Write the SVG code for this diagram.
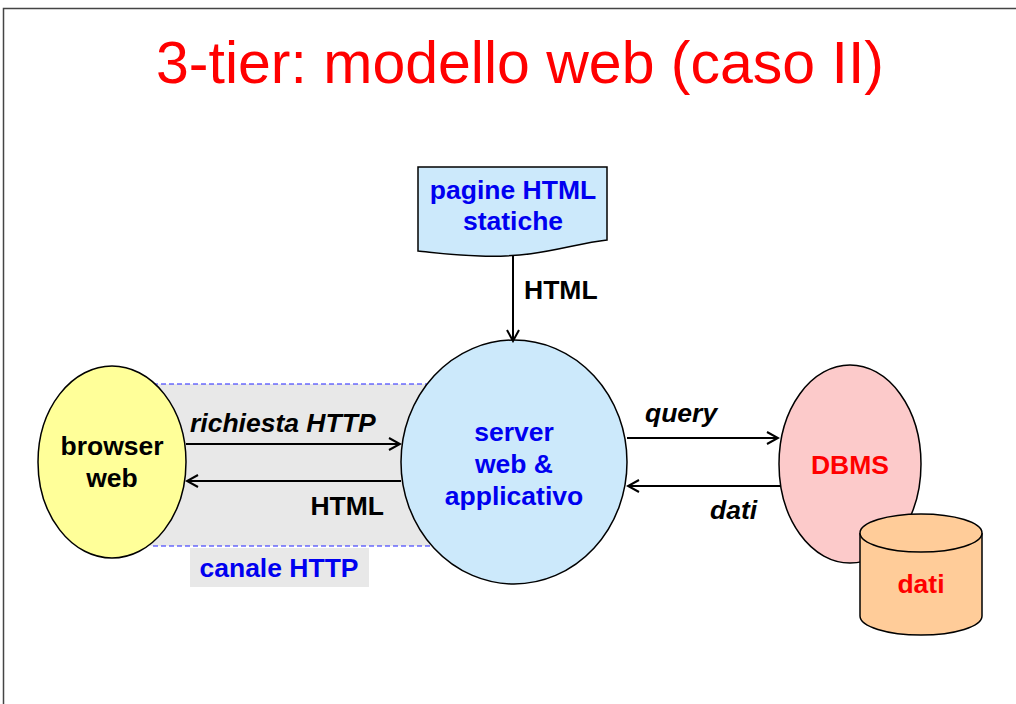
<svg xmlns="http://www.w3.org/2000/svg" width="1016" height="704" viewBox="0 0 1016 704">
<defs>
<style>
.t{font-family:"Liberation Sans",Arial,sans-serif;font-weight:bold;font-size:26.5px}
.blue{fill:#0000f0}
.red{fill:#ff0000}
.blk{fill:#000}
.it{font-style:italic}
.line{stroke:#000;stroke-width:2;fill:none}
.shape{stroke:#000;stroke-width:1.5}
</style>
<marker id="ah" markerWidth="14" markerHeight="14" refX="12" refY="7" orient="auto" markerUnits="userSpaceOnUse">
<path d="M1,1 L12,7 L1,13" fill="none" stroke="#000" stroke-width="2"/>
</marker>
</defs>
<rect width="1016" height="704" fill="#fff"/>
<path d="M3.5,704 V8.5 H1016" fill="none" stroke="#444" stroke-width="1.5"/>
<text x="520" y="83" text-anchor="middle" font-family="Liberation Sans, Arial, sans-serif" font-size="59" fill="#ff0000">3-tier: modello web (caso II)</text>

<g id="canale">
<rect x="150" y="384" width="280" height="162" fill="#e8e8e8"/>
<line x1="153" y1="384" x2="430" y2="384" stroke="#2222ff" stroke-width="1.2" stroke-dasharray="5,3"/>
<line x1="153" y1="546" x2="430" y2="546" stroke="#2222ff" stroke-width="1.2" stroke-dasharray="5,3"/>
<rect x="190" y="548" width="179" height="39" fill="#e8e8e8"/>
<text class="t blue" x="279" y="577" text-anchor="middle">canale HTTP</text>
</g>

<g id="pagine">
<path class="shape" d="M418,167 H607 V240 C570,244 540,258 480,256 C450,255 430,252 418,251 Z" fill="#cce9fb"/>
<text class="t blue" x="513" y="199" text-anchor="middle">pagine HTML</text>
<text class="t blue" x="513" y="230" text-anchor="middle">statiche</text>
</g>

<g id="browser">
<ellipse class="shape" cx="112" cy="462" rx="74" ry="96" fill="#ffff99"/>
<text class="t blk" x="112" y="455" text-anchor="middle">browser</text>
<text class="t blk" x="112" y="487" text-anchor="middle">web</text>
</g>

<g id="server">
<ellipse class="shape" cx="514" cy="462" rx="113" ry="122" fill="#cce9fb"/>
<text class="t blue" x="514" y="441" text-anchor="middle">server</text>
<text class="t blue" x="514" y="473" text-anchor="middle">web &amp;</text>
<text class="t blue" x="514" y="505" text-anchor="middle">applicativo</text>
</g>

<g id="dbms">
<ellipse class="shape" cx="850" cy="464" rx="71" ry="99" fill="#fccaca"/>
<text class="t red" x="850" y="474" text-anchor="middle">DBMS</text>
</g>

<g id="dati">
<path class="shape" d="M860,533 V616 A61,19 0 0 0 982,616 V533" fill="#ffcc99"/>
<ellipse class="shape" cx="921" cy="533" rx="61" ry="19" fill="#ffcc99"/>
<text class="t red" x="921" y="593" text-anchor="middle">dati</text>
</g>

<g id="connectors">
<line class="line" x1="513" y1="255" x2="513" y2="341" marker-end="url(#ah)"/>
<text class="t blk" x="524" y="299">HTML</text>
<line class="line" x1="186" y1="444" x2="400" y2="444" marker-end="url(#ah)"/>
<text class="t blk it" x="190" y="432">richiesta HTTP</text>
<line class="line" x1="401" y1="481" x2="187" y2="481" marker-end="url(#ah)"/>
<text class="t blk" x="384" y="515" text-anchor="end">HTML</text>
<line class="line" x1="627" y1="438" x2="778" y2="438" marker-end="url(#ah)"/>
<text class="t blk it" x="645" y="422">query</text>
<line class="line" x1="781" y1="486" x2="628" y2="486" marker-end="url(#ah)"/>
<text class="t blk it" x="710" y="519">dati</text>
</g>
</svg>
